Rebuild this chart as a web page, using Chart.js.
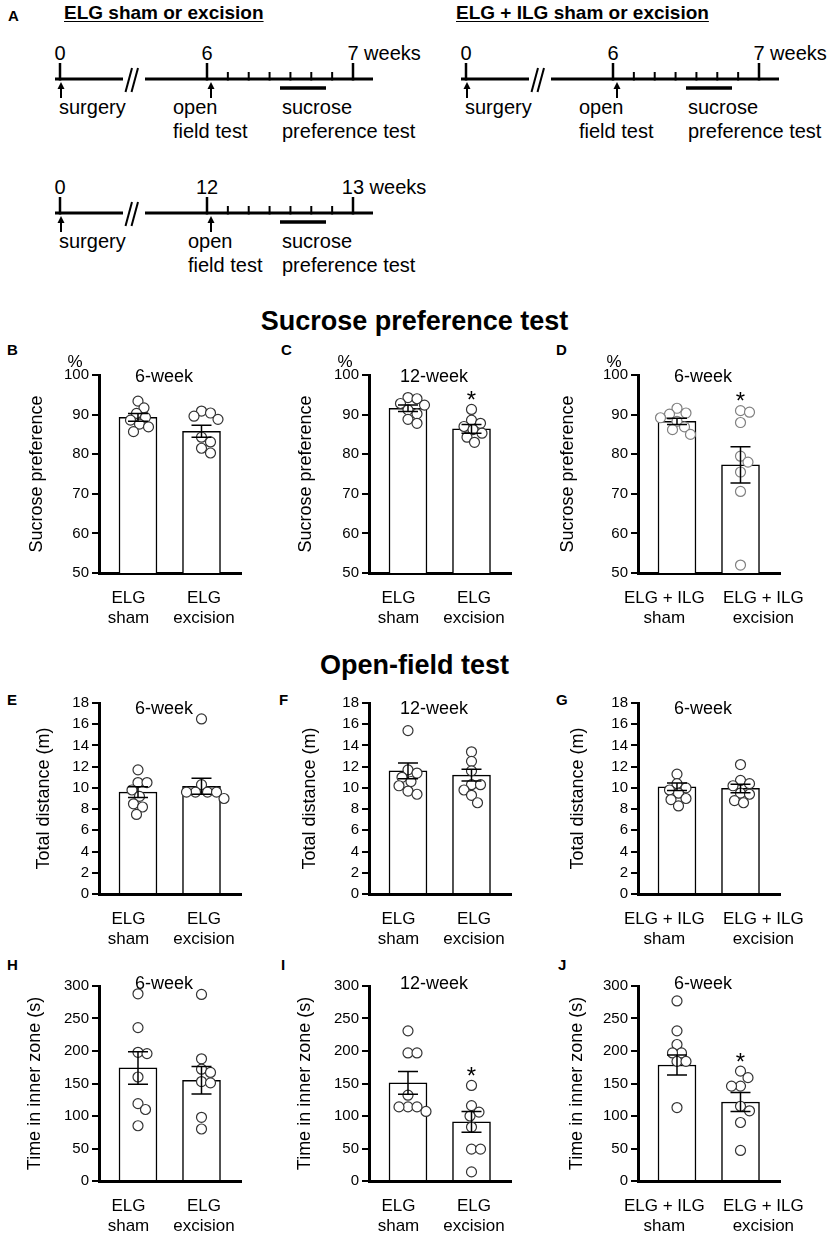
<!DOCTYPE html>
<html>
<head>
<meta charset="utf-8">
<script src="https://cdn.jsdelivr.net/npm/chart.js@4.4.0/dist/chart.umd.min.js"></script>
<style>
  body { margin: 0; background: #fff; width: 829px; height: 1236px; position: relative; overflow: hidden;
         font-family: "Liberation Sans", Arial, sans-serif; color: #000; }
  .lbl { position: absolute; font-weight: bold; font-size: 15px; line-height: 18px; }
  .head { position: absolute; left: 0; width: 829px; text-align: center; font-weight: bold; font-size: 27px; line-height: 32px; }
  .sub { position: absolute; font-weight: bold; font-size: 19px; line-height: 22px; text-decoration: underline; text-underline-offset: 2px; }
  canvas { position: absolute; }
  svg { position: absolute; left: 0; top: 0; }
</style>
</head>
<body>
<svg id="timeline" width="829" height="290"></svg>
<div class="sub" style="left:64px; top:2px;">ELG sham or excision</div>
<div class="sub" style="left:456px; top:2px;">ELG + ILG sham or excision</div>
<div class="lbl" style="left:8px; top:7px;">A</div>
<div class="head" style="top:305px;">Sucrose preference test</div>
<div class="head" style="top:649px;">Open-field test</div>
<div class="lbl" style="left:7px; top:341px;">B</div>
<div class="lbl" style="left:281px; top:341px;">C</div>
<div class="lbl" style="left:556px; top:341px;">D</div>
<div class="lbl" style="left:7px; top:691px;">E</div>
<div class="lbl" style="left:279px; top:691px;">F</div>
<div class="lbl" style="left:556px; top:691px;">G</div>
<div class="lbl" style="left:7px; top:956px;">H</div>
<div class="lbl" style="left:281px; top:956px;">I</div>
<div class="lbl" style="left:558px; top:956px;">J</div>

<script>
// ---- timeline labels (panel A)
const tlWeeks = [['0', '6', '7'], ['0', '6', '7'], ['0', '12', '13']];
const tlEvents = ['surgery', ['open', 'field test'], ['sucrose', 'preference test']];

// ---- group labels
const groupsELG = [['ELG', 'sham'], ['ELG', 'excision']];
const groupsBoth = [['ELG + ILG', 'sham'], ['ELG + ILG', 'excision']];

// ---- y tick values
const sucTicks = [50, 60, 70, 80, 90, 100];
const distTicks = [0, 2, 4, 6, 8, 10, 12, 14, 16, 18];
const timeTicks = [0, 50, 100, 150, 200, 250, 300];

// ---- B: sucrose preference, ELG, 6-week (%)
const sucElg6Mean = [89.3, 85.8];
const sucElg6Sem = [1.0, 1.5];
const sucElg6Sham = [93.4, 91.7, 90.3, 89.3, 88.6, 87.6, 86.9, 85.7];
const sucElg6Exc = [90.9, 90.4, 89.6, 88.8, 84.3, 83.1, 81.5, 80.3];

// ---- C: sucrose preference, ELG, 12-week (%)
const sucElg12Mean = [91.6, 86.4];
const sucElg12Sem = [0.8, 1.1];
const sucElg12Sham = [94.3, 94.0, 92.8, 92.4, 91.2, 90.2, 88.8, 87.8];
const sucElg12Exc = [91.3, 88.6, 87.8, 87.0, 86.2, 85.3, 84.3, 83.0];

// ---- D: sucrose preference, ELG + ILG, 6-week (%)
const sucBoth6Mean = [88.3, 77.3];
const sucBoth6Sem = [0.8, 4.6];
const sucBoth6Sham = [91.6, 90.4, 90.1, 89.2, 88.3, 86.9, 86.2, 85.0];
const sucBoth6Exc = [91.0, 90.6, 88.0, 79.5, 78.0, 75.5, 70.6, 52.0];

// ---- E: total distance, ELG, 6-week (m)
const distElg6Mean = [9.6, 10.15];
const distElg6Sem = [0.5, 0.75];
const distElg6Sham = [11.7, 10.5, 10.5, 9.8, 9.2, 8.5, 8.2, 7.5];
const distElg6Exc = [16.5, 10.3, 9.6, 9.6, 9.6, 9.6, 9.0];

// ---- F: total distance, ELG, 12-week (m)
const distElg12Mean = [11.6, 11.2];
const distElg12Sem = [0.75, 0.55];
const distElg12Sham = [15.4, 11.7, 11.4, 11.0, 10.6, 10.2, 9.7, 9.4];
const distElg12Exc = [13.4, 12.5, 11.6, 10.3, 10.3, 9.8, 9.3, 8.6];

// ---- G: total distance, ELG + ILG, 6-week (m)
const distBoth6Mean = [10.1, 9.95];
const distBoth6Sem = [0.35, 0.4];
const distBoth6Sham = [11.3, 10.4, 10.0, 9.8, 9.5, 9.0, 8.9, 8.3];
const distBoth6Exc = [12.2, 10.7, 10.4, 10.2, 9.5, 9.4, 8.8, 8.6];

// ---- H: time in inner zone, ELG, 6-week (s)
const zoneElg6Mean = [174, 155];
const zoneElg6Sem = [25, 21];
const zoneElg6Sham = [288, 236, 198, 196, 160, 119, 110, 85];
const zoneElg6Exc = [287, 188, 172, 167, 153, 151, 98, 80];

// ---- I: time in inner zone, ELG, 12-week (s)
const zoneElg12Mean = [151, 91];
const zoneElg12Sem = [17.5, 16];
const zoneElg12Sham = [231, 197, 197, 132, 114, 114, 114, 107];
const zoneElg12Exc = [147, 116, 106, 100, 83, 49, 49, 14];

// ---- J: time in inner zone, ELG + ILG, 6-week (s)
const zoneBoth6Mean = [178.5, 121.5];
const zoneBoth6Sem = [15.5, 14.5];
const zoneBoth6Sham = [277, 231, 210, 197, 197, 184, 184, 113];
const zoneBoth6Exc = [169, 159, 146, 146, 115, 108, 90, 47];

const FONT = '"Liberation Sans", Arial, sans-serif';
Chart.defaults.font.family = FONT;
Chart.defaults.color = '#000';

// ---------------- panel A: timelines (plain svg)
const svg = document.getElementById('timeline');
function el(tag, attrs, text) {
  const e = document.createElementNS('http://www.w3.org/2000/svg', tag);
  for (const k in attrs) e.setAttribute(k, attrs[k]);
  if (text !== undefined) e.textContent = text;
  svg.appendChild(e);
  return e;
}
function line(x1, y1, x2, y2, w) {
  el('line', { x1, y1, x2, y2, stroke: '#000', 'stroke-width': w });
}
function txt(x, y, s, anchor) {
  el('text', { x, y, 'font-family': FONT, 'font-size': 20, 'dominant-baseline': 'central',
               'text-anchor': anchor || 'start' }, s);
}
function drawTimeline(dx, ly, weeks, openX) {
  const major = [60, 207, 353].map(v => v + dx);
  line(55 + dx, ly, 123 + dx, ly, 3);
  line(145 + dx, ly, 373 + dx, ly, 3);
  // axis break
  line(125.5 + dx, ly + 13, 132 + dx, ly - 11, 2);
  line(131.5 + dx, ly + 13, 138 + dx, ly - 11, 2);
  major.forEach(x => line(x, ly - 16, x, ly + 1.5, 2.5));
  for (let i = 1; i < 7; i++) {
    const x = major[1] + (major[2] - major[1]) * i / 7;
    line(x, ly - 7, x, ly + 1.5, 2);
  }
  txt(major[0], ly - 26, weeks[0], 'middle');
  txt(major[1], ly - 26, weeks[1], 'middle');
  txt(major[2] - weeks[2].length * 5.6, ly - 26, weeks[2] + ' weeks');
  // arrows
  [61 + dx, 211 + dx].forEach(x => {
    line(x, ly + 19, x, ly + 8, 2);
    el('path', { d: `M${x} ${ly + 3} L${x - 3.5} ${ly + 10} L${x + 3.5} ${ly + 10} Z`, fill: '#000' });
  });
  line(280 + dx, ly + 9, 326 + dx, ly + 9, 3.5);
  txt(59 + dx, ly + 28, tlEvents[0]);
  txt(openX + dx, ly + 28, tlEvents[1][0]);
  txt(openX + dx, ly + 52, tlEvents[1][1]);
  txt(282 + dx, ly + 28, tlEvents[2][0]);
  txt(282 + dx, ly + 52, tlEvents[2][1]);
}
drawTimeline(0, 79, tlWeeks[0], 173);
drawTimeline(406, 79, tlWeeks[1], 173);
drawTimeline(0, 213, tlWeeks[2], 188);

// ---------------- bar panels
const rows = [
  { top: 340, h: 300, padTop: 35, xH: 67, titleDy: 2 },
  { top: 670, h: 285, padTop: 33, xH: 61, titleDy: 6 },
  { top: 955, h: 281, padTop: 31, xH: 55, titleDy: -2 }
];
const colLeft = [0, 270, 539];
const CANVAS_W = 290, PAD_RIGHT = 49;     // plot is 142 px wide
// where the two group labels sit along the x axis (in bar units)
const labelAtNarrow = [-0.15, 1.04];
const labelAtWide = [-0.2, 1.36];

const panels = [
  { row: 0, col: 0, title: '6-week', pct: true, yTitle: 'Sucrose preference', ticks: sucTicks, groups: groupsELG,
    mean: sucElg6Mean, sem: sucElg6Sem, pts: [sucElg6Sham, sucElg6Exc], sig: [false, false], gap: 62 },
  { row: 0, col: 1, title: '12-week', pct: true, yTitle: 'Sucrose preference', ticks: sucTicks, groups: groupsELG,
    mean: sucElg12Mean, sem: sucElg12Sem, pts: [sucElg12Sham, sucElg12Exc], sig: [false, true], gap: 63 },
  { row: 0, col: 2, title: '6-week', pct: true, yTitle: 'Sucrose preference', ticks: sucTicks, groups: groupsBoth,
    mean: sucBoth6Mean, sem: sucBoth6Sem, pts: [sucBoth6Sham, sucBoth6Exc], sig: [false, true], gap: 70, ptColor: '#808080' },
  { row: 1, col: 0, title: '6-week', yTitle: 'Total distance (m)', ticks: distTicks, groups: groupsELG,
    mean: distElg6Mean, sem: distElg6Sem, pts: [distElg6Sham, distElg6Exc], sig: [false, false], gap: 55 },
  { row: 1, col: 1, title: '12-week', yTitle: 'Total distance (m)', ticks: distTicks, groups: groupsELG,
    mean: distElg12Mean, sem: distElg12Sem, pts: [distElg12Sham, distElg12Exc], sig: [false, false], gap: 59 },
  { row: 1, col: 2, title: '6-week', yTitle: 'Total distance (m)', ticks: distTicks, groups: groupsBoth,
    mean: distBoth6Mean, sem: distBoth6Sem, pts: [distBoth6Sham, distBoth6Exc], sig: [false, false], gap: 60 },
  { row: 2, col: 0, title: '6-week', yTitle: 'Time in inner zone (s)', ticks: timeTicks, groups: groupsELG,
    mean: zoneElg6Mean, sem: zoneElg6Sem, pts: [zoneElg6Sham, zoneElg6Exc], sig: [false, false], gap: 64 },
  { row: 2, col: 1, title: '12-week', yTitle: 'Time in inner zone (s)', ticks: timeTicks, groups: groupsELG,
    mean: zoneElg12Mean, sem: zoneElg12Sem, pts: [zoneElg12Sham, zoneElg12Exc], sig: [false, true], gap: 64 },
  { row: 2, col: 2, title: '6-week', yTitle: 'Time in inner zone (s)', ticks: timeTicks, groups: groupsBoth,
    mean: zoneBoth6Mean, sem: zoneBoth6Sem, pts: [zoneBoth6Sham, zoneBoth6Exc], sig: [false, true], gap: 61 }
];

// error bars (mean +/- sem) on top of the bars and dots
const errorBars = {
  id: 'errorBars',
  afterDatasetsDraw(chart) {
    const ds = chart.data.datasets[1];
    const meta = chart.getDatasetMeta(1);
    const y = chart.scales.y;
    const ctx = chart.ctx;
    ctx.save();
    ctx.strokeStyle = '#000';
    ctx.lineWidth = 1.5;
    meta.data.forEach((bar, i) => {
      const m = ds.data[i].y, e = ds.errors[i];
      const top = y.getPixelForValue(m + e), bot = y.getPixelForValue(m - e);
      ctx.beginPath();
      ctx.moveTo(bar.x, top); ctx.lineTo(bar.x, bot);
      ctx.moveTo(bar.x - 10, top); ctx.lineTo(bar.x + 10, top);
      ctx.moveTo(bar.x - 10, bot); ctx.lineTo(bar.x + 10, bot);
      ctx.stroke();
    });
    ctx.restore();
  }
};

// "6-week", "%" and asterisks
const panelText = {
  id: 'panelText',
  afterDraw(chart, args, opts) {
    const ctx = chart.ctx, a = chart.chartArea;
    const x = chart.scales.x, y = chart.scales.y;
    ctx.save();
    ctx.fillStyle = '#000';
    ctx.textAlign = 'center';
    ctx.textBaseline = 'middle';
    ctx.font = '18px ' + FONT;
    ctx.fillText(opts.title, x.getPixelForValue(0.41), a.top + opts.dy);
    if (opts.pct) {
      ctx.font = '17px ' + FONT;
      ctx.fillText('%', a.left - 24, a.top - 13);
    }
    ctx.font = '24px ' + FONT;
    opts.sig.forEach((s, i) => {
      if (!s) return;
      const top = Math.max(opts.mean[i] + opts.sem[i], ...opts.pts[i]);
      ctx.fillText('*', x.getPixelForValue(i), y.getPixelForValue(top) - 8);
    });
    ctx.restore();
  }
};

// simple beeswarm: keep dots from stacking on one another
function swarm(values, xc, yScale, unitPx) {
  const placed = [];
  return values.map(v => {
    const py = yScale.getPixelForValue(v);
    for (let k = 0; k < 80; k++) {
      const dx = (k % 2 ? 1 : -1) * Math.ceil(k / 2) * 1.5;
      if (placed.every(q => Math.hypot(q.dx - dx, q.py - py) >= 9)) {
        placed.push({ dx, py });
        return { x: xc + dx / unitPx, y: v };
      }
    }
    return { x: xc, y: v };
  });
}

// bar centers at +39 and +102.5 px from the y axis, plot 142 px wide
const X_MIN = -0.614, X_MAX = 1.622;

panels.forEach(p => {
  const g = rows[p.row];
  const canvas = document.createElement('canvas');
  canvas.width = CANVAS_W;
  canvas.height = g.h;
  canvas.style.left = colLeft[p.col] + 'px';
  canvas.style.top = g.top + 'px';
  document.body.appendChild(canvas);
  const padLeft = Math.round(99 - p.gap - 10.8);
  const labelAt = p.groups === groupsBoth ? labelAtWide : labelAtNarrow;

  const chart = new Chart(canvas, {
    type: 'bar',
    data: {
      datasets: [
        {
          type: 'scatter',
          data: [],
          order: 1,
          pointRadius: 5,
          pointBackgroundColor: '#fff',
          pointBorderColor: p.ptColor || '#333',
          pointBorderWidth: 1.2
        },
        {
          type: 'bar',
          data: p.mean.map((m, i) => ({ x: i, y: m })),
          errors: p.sem,
          order: 2,
          backgroundColor: '#fff',
          borderColor: '#000',
          borderWidth: 1.5,
          barThickness: 38
        }
      ]
    },
    options: {
      responsive: false,
      animation: false,
      layout: { padding: { left: padLeft, top: g.padTop, right: PAD_RIGHT, bottom: 0 } },
      plugins: {
        legend: { display: false },
        tooltip: { enabled: false },
        panelText: { title: p.title, pct: !!p.pct, dy: g.titleDy, sig: p.sig, mean: p.mean, sem: p.sem, pts: p.pts }
      },
      scales: {
        x: {
          type: 'linear',
          offset: false,
          bounds: 'data',
          min: X_MIN,
          max: X_MAX,
          afterBuildTicks: s => { s.ticks = labelAt.map(v => ({ value: v })); },
          ticks: {
            callback: (v, i) => p.groups[i],
            font: { size: 17, lineHeight: 1.2 },
            color: '#000',
            padding: 7,
            maxRotation: 0,
            minRotation: 0,
            autoSkip: false
          },
          grid: { display: false, offset: false },
          border: { display: true, color: '#000', width: 3 },
          afterFit: s => { s.height = g.xH; s.paddingLeft = 0; s.paddingRight = 0; }
        },
        y: {
          min: p.ticks[0],
          max: p.ticks[p.ticks.length - 1],
          afterBuildTicks: s => { s.ticks = p.ticks.map(v => ({ value: v })); },
          ticks: { font: { size: 15 }, color: '#000', padding: 3 },
          grid: { drawOnChartArea: false, drawTicks: true, tickLength: 7, color: '#000', lineWidth: 2 },
          border: { color: '#000', width: 3 },
          title: { display: true, text: p.yTitle, font: { size: 18 }, color: '#000', padding: 0 },
          afterFit: s => { s.width = 99 - padLeft; s.paddingTop = 0; s.paddingBottom = 0; }
        }
      }
    },
    plugins: [errorBars, panelText]
  });

  const unitPx = chart.scales.x.getPixelForValue(1) - chart.scales.x.getPixelForValue(0);
  chart.data.datasets[0].data = p.pts.flatMap((vals, i) => swarm(vals, i, chart.scales.y, unitPx));
  chart.update('none');
});
</script>
</body>
</html>
